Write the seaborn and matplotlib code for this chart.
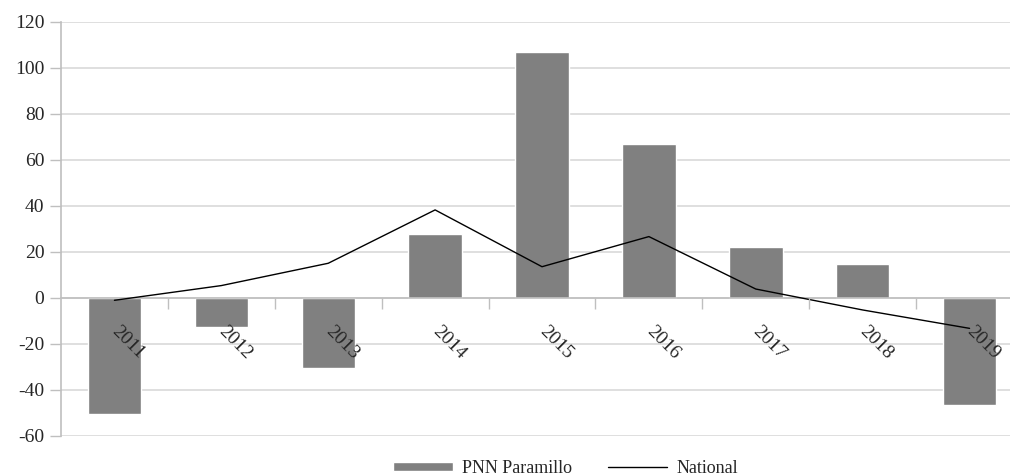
import numpy as np
import pandas as pd
import seaborn as sns
from matplotlib import pyplot as plt

years = ['2011', '2012', '2013', '2014', '2015', '2016', '2017', '2018', '2019']
paramillo = [-50.3, -12.5, -30.3, 27.8, 107.0, 67.0, 22.2, 14.8, -46.4]
national = [-1.0, 5.4, 15.1, 38.3, 13.6, 26.7, 3.9, -5.2, -13.2]

df = pd.DataFrame({'Year': years, 'PNN Paramillo': paramillo, 'National': national})

sns.set_style('white')
plt.rcParams['font.family'] = ['Liberation Serif', 'DejaVu Serif']
plt.rcParams['axes.unicode_minus'] = False

fig = plt.figure(figsize=(10.1, 4.75), dpi=100)
ax = fig.add_axes([61 / 1010, 39 / 475, 962 / 1010, 414 / 475])

sns.barplot(data=df, x='Year', y='PNN Paramillo', color='#808080', width=0.5,
            saturation=1, ax=ax, label='PNN Paramillo', zorder=2)
sns.lineplot(x=np.arange(len(years)), y=df['National'], color='black',
             linewidth=1.0, ax=ax, label='National', zorder=3)

ax.set_xlim(-0.5, len(years) - 0.5)
ax.set_ylim(-60, 120)
ax.set_yticks(np.arange(-60, 121, 20))
ax.yaxis.grid(True, color='#d9d9d9', linewidth=1.2)
ax.set_axisbelow(True)
ax.set_xlabel('')
ax.set_ylabel('')

grey = '#bfbfbf'
ax.spines['top'].set_visible(False)
ax.spines['right'].set_visible(False)
ax.spines['left'].set_color(grey)
ax.spines['left'].set_linewidth(1.2)
ax.spines['bottom'].set_position(('data', 0))
ax.spines['bottom'].set_color(grey)
ax.spines['bottom'].set_linewidth(1.2)

ax.tick_params(axis='y', direction='out', length=8, width=1, color=grey,
               labelsize=14, pad=4, left=True)
ax.set_xticks(np.arange(len(years)))
ax.set_xticklabels(years, rotation=-45, rotation_mode='anchor', ha='left', va='center')
ax.tick_params(axis='x', which='major', length=0, labelsize=14, pad=22, bottom=True)
ax.set_xticks(np.arange(0.5, len(years) - 1, 1), minor=True)
ax.tick_params(axis='x', which='minor', direction='out', length=8, width=1,
               color=grey, bottom=True)
# year labels sit on top of the bars
ax.xaxis.set_zorder(5)

ax.get_legend().remove()
handles, labels = ax.get_legend_handles_labels()
order = [labels.index('PNN Paramillo'), labels.index('National')]
fig.legend([handles[i] for i in order], [labels[i] for i in order],
           loc='lower center', bbox_to_anchor=(0.56, -0.038),
           ncol=2, frameon=False, fontsize=13, handlelength=3.3,
           handleheight=0.4, columnspacing=2.0, handletextpad=0.5)

fig.savefig('out.png', dpi=100)
